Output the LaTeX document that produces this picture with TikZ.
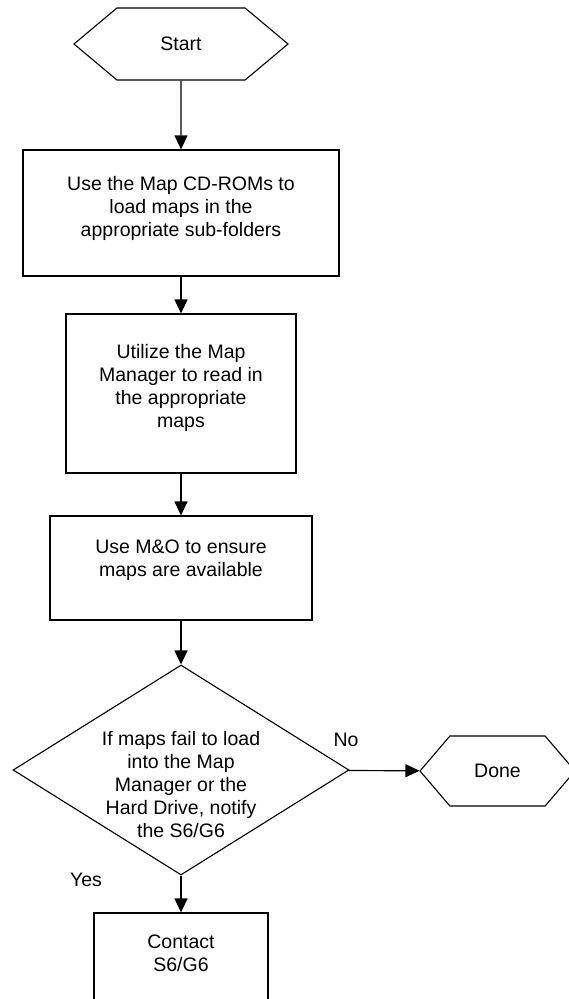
\documentclass[tikz,border=0pt]{standalone}
\usepackage{fontspec}
\setmainfont{Liberation Sans}
\usetikzlibrary{shapes.geometric,shapes.symbols,arrows.meta,positioning}

\begin{document}
\begin{tikzpicture}[x=1pt, y=1pt,
    box/.style={rectangle, draw, line width=1.2pt, align=center, inner sep=0pt},
    term/.style={signal, signal to=west and east, draw, line width=1.1pt, inner sep=0pt},
    decision/.style={diamond, draw, line width=1.1pt, align=center, inner sep=-50pt},
    >={Triangle[width=13pt,length=14pt]}, line width=1.2pt,
    font=\fontsize{19.5}{23}\selectfont
]
    \useasboundingbox (0,0) rectangle (569,-999);

    % Steps
    \node[term, signal pointer angle=80, minimum width=214, minimum height=72] (start) at (181,-44) {Start};
    \node[box, minimum width=316, minimum height=126, text depth=14pt] (load) at (181,-213) {Use the Map CD-ROMs to\\load maps in the\\appropriate sub-folders};
    \node[box, minimum width=230, minimum height=159, text depth=16pt] (read) at (181,-393.5) {Utilize the Map\\Manager to read in\\the appropriate\\maps};
    \node[box, minimum width=262, minimum height=104, text depth=20pt] (check) at (181,-568) {Use M\&O to ensure\\maps are available};

    % Decision
    \node[decision, minimum width=336, minimum height=210, text height=136pt] (fail) at (181,-770) {If maps fail to load\\into the Map\\Manager or the\\Hard Drive, notify\\the S6/G6};
    \node[term, signal pointer angle=99, minimum width=155, minimum height=70] (done) at (497.5,-771) {Done};
    \node[box, minimum width=174, minimum height=120, text depth=40pt] (contact) at (181,-973) {Contact\\S6/G6};
    \node (no) at (346,-740) {No};
    \node (yes) at (86,-880) {Yes};

    \draw[->] (start) -- (load);
    \draw[->] (load) -- (read);
    \draw[->] (read) -- (check);
    \draw[->] (check) -- (fail);
    \draw[->] (fail) -- (done);
    \draw[->] (fail) -- (contact);
\end{tikzpicture}
\end{document}
